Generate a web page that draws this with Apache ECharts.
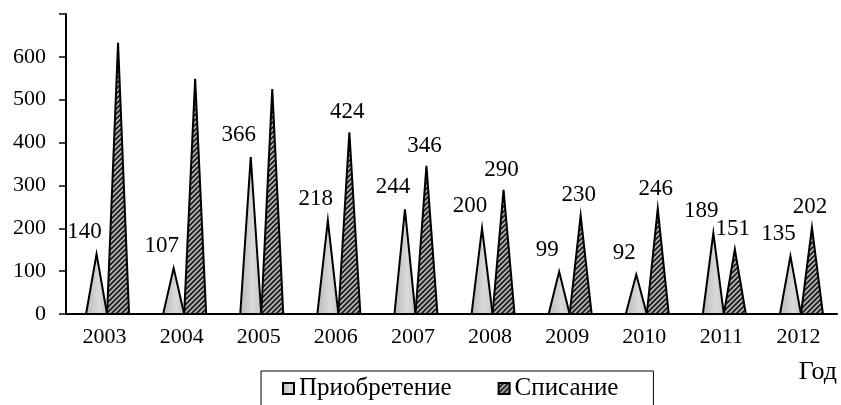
<!DOCTYPE html>
<html>
<head>
<meta charset="utf-8">
<script src="https://cdn.jsdelivr.net/npm/echarts@6/dist/echarts.min.js"></script>
</head>
<body style="margin:0;background:#fff;">
<div id="main" style="width:841px;height:405px;"></div>
<script type="text/javascript">
	// данные
	var years = ['2003', '2004', '2005', '2006', '2007', '2008', '2009', '2010', '2011', '2012'];
	var buy = [140, 107, 366, 218, 244, 200, 99, 92, 189, 135];
	var writeOff = [633, 549, 525, 424, 346, 290, 230, 246, 151, 202];
	// подписи над списанием показаны не у всех лет
	var writeOffLabel = [false, false, false, true, true, true, true, true, true, true];
	var yTicks = [0, 100, 200, 300, 400, 500, 600];

	var FONT = '"Liberation Serif", "Times New Roman", serif';

	// штриховка
	var hatch = document.createElement('canvas');
	hatch.width = 5;
	hatch.height = 5;
	var ctx = hatch.getContext('2d');
	ctx.fillStyle = '#b4b4b4';
	ctx.fillRect(0, 0, 5, 5);
	ctx.strokeStyle = '#1a1a1a';
	ctx.lineWidth = 1.7;
	ctx.beginPath();
	ctx.moveTo(-1, 6); ctx.lineTo(6, -1);
	ctx.moveTo(-1, 1); ctx.lineTo(1, -1);
	ctx.moveTo(4, 6); ctx.lineTo(6, 4);
	ctx.stroke();

	// треугольник-"пирамида" для каждого года
	function triangle(shift, halfW, lx, ly) {
		return function (params, api) {
			var top = api.coord([api.value(0), api.value(1)]);
			var base = api.coord([api.value(0), 0]);
			var cx = top[0] + shift;
			var children = [{
				type: 'polygon',
				shape: { points: [[cx - halfW, base[1]], [cx, top[1]], [cx + halfW, base[1]]] },
				style: api.style({ stroke: '#000', lineWidth: 2 })
			}];
			if (api.value(2)) {
				children.push({
					type: 'text',
					x: cx + lx,
					y: top[1] + ly,
					style: {
						text: String(api.value(1)),
						font: '23px ' + FONT,
						fill: '#000',
						align: 'center',
						verticalAlign: 'middle'
					}
				});
			}
			return { type: 'group', children: children };
		};
	}

	var myChart = echarts.init(document.getElementById('main'));

	myChart.setOption({
		animation: false,
		grid: { left: 66, right: 4, top: 14, bottom: 91 },
		legend: {
			left: 261,
			top: 371,
			padding: [5, 35, 20, 21],
			borderColor: '#000',
			borderWidth: 1,
			itemWidth: 11,
			itemHeight: 11,
			itemGap: 46,
			textStyle: { fontFamily: FONT, fontSize: 25, color: '#000' },
			data: [
				{ name: 'Приобретение', icon: 'rect' },
				{ name: 'Списание', icon: 'rect' }
			]
		},
		graphic: [{
			type: 'text',
			right: 4,
			top: 359,
			style: { text: 'Год', font: '26px ' + FONT, fill: '#000' }
		}],
		xAxis: {
			type: 'category',
			data: years,
			axisLine: { lineStyle: { color: '#000', width: 2 } },
			axisTick: { length: 7, lineStyle: { color: '#000', width: 1.5 } },
			axisLabel: { fontFamily: FONT, fontSize: 22, color: '#000', margin: 12 }
		},
		yAxis: {
			type: 'value',
			min: 0,
			max: 700,
			interval: 100,
			splitLine: { show: false },
			axisLine: { show: true, lineStyle: { color: '#000', width: 2 } },
			axisTick: { show: true, length: 7, lineStyle: { color: '#000', width: 1.5 } },
			axisLabel: {
				fontFamily: FONT, fontSize: 22, color: '#000', margin: 20,
				formatter: function (v) { return yTicks.indexOf(v) >= 0 ? String(v) : ''; }
			}
		},
		series: [{
			name: 'Приобретение',
			type: 'custom',
			renderItem: triangle(-8, 10.5, -12, -22),
			encode: { x: 0, y: 1 },
			itemStyle: {
				color: {
					type: 'linear', x: 0, y: 0, x2: 1, y2: 0,
					colorStops: [{ offset: 0, color: '#b8b8b8' }, { offset: 0.6, color: '#dadada' }, { offset: 1, color: '#c4c4c4' }]
				},
				borderColor: '#000',
				borderWidth: 1
			},
			data: buy.map(function (v, i) { return [i, v, 1]; })
		}, {
			name: 'Списание',
			type: 'custom',
			renderItem: triangle(13.5, 11, -2, -20),
			encode: { x: 0, y: 1 },
			itemStyle: {
				color: { image: hatch, repeat: 'repeat' },
				borderColor: '#000',
				borderWidth: 1
			},
			data: writeOff.map(function (v, i) { return [i, v, writeOffLabel[i] ? 1 : 0]; })
		}]
	});
</script>
</body>
</html>
